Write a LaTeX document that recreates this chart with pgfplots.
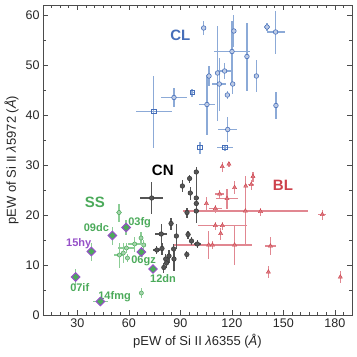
\documentclass[border=0pt]{standalone}
\usepackage{fontspec}
\setmainfont{Liberation Sans}
\usepackage{pgfplots}
\pgfplotsset{compat=1.18}
\usepackage{pgfplotstable}
\usetikzlibrary{calc}

\definecolor{clblue}{RGB}{70,110,185}
\definecolor{clerr}{RGB}{140,170,215}
\definecolor{cngray}{RGB}{55,55,55}
\definecolor{cnerr}{RGB}{85,85,85}
\definecolor{blred}{RGB}{205,65,75}
\definecolor{blerr}{RGB}{225,135,145}
\definecolor{ssgreen}{RGB}{75,170,90}
\definecolor{sserr}{RGB}{140,205,150}
\definecolor{sspurple}{RGB}{150,80,200}

\pgfplotsset{eb/.style={error bars/x dir=both, error bars/x explicit, error bars/y dir=both, error bars/y explicit, error bars/error mark=none, error bars/error bar style={#1, line width=1.2pt}}}

\pgfplotstableread{
x y ex ey
103.6 57.4 1.0 1.4
86.3 43.5 7.5 1.9
105.5 42.1 4.8 6.0
106.7 47.8 1.0 2.0
121.2 56.8 1.0 3.2
140.5 57.6 2.0 0.8
145.5 56.6 5.3 4.3
120.1 52.7 10.4 6.2
128.8 51.7 1.0 6.8
120.5 46.2 1.2 2.0
134.3 47.8 1.0 3.2
115.8 48.8 3.9 1.6
111.7 48.4 1.0 9.5
112.7 46.2 4.0 5.3
117.4 44.0 0.8 0.8
145.7 41.9 1.0 2.7
117.6 37.1 5.5 2.5
}\clcirc

\pgfplotstableread{
x y ex ey
74.6 40.7 10.4 7.2
96.8 44.5 1.0 0.8
101.4 33.5 0.8 1.2
116.0 33.5 4.9 0.6
}\clsq

\pgfplotstableread{
x y ex ey
73.3 23.4 6.8 3.2
99.3 28.6 0.8 1.0
95.4 27.3 0.8 0.8
91.2 25.8 0.8 1.2
95.8 24.4 0.8 1.3
99.3 23.4 0.8 5.0
99.3 22.3 0.8 1.0
99.3 20.8 0.8 1.0
93.9 20.5 0.8 1.0
84.6 18.3 0.8 1.2
78.9 16.2 3.6 2.0
87.7 15.8 0.8 2.5
94.5 16.1 0.8 0.8
96.5 14.8 0.8 0.8
99.9 14.2 2.0 0.8
79.3 13.3 0.8 1.2
76.3 13.0 2.0 0.8
86.1 13.2 0.8 1.0
83.4 11.8 0.8 1.3
81.5 11.2 0.8 1.0
93.8 12.1 0.8 0.8
86.3 11.2 0.8 2.3
81.9 10.4 0.8 1.0
80.4 9.5 0.8 1.0
}\cn

\pgfplotstableread{
x y ex ey
114.4 29.7 0.8 1.0
118.3 30.2 0.6 0.5
132.3 27.7 1.0 1.0
128.1 25.8 0.8 1.2
131.3 26.1 1.6 1.0
121.6 25.5 0.8 1.3
112.9 24.2 2.7 0.8
117.2 23.3 6.5 2.0
105.2 22.3 0.6 1.3
110.4 21.3 3.7 0.8
127.9 20.8 36.4 7.0
136.7 20.7 1.0 0.8
172.7 20.1 2.4 1.0
110.4 17.9 0.8 0.8
114.5 17.9 14.1 0.8
113.5 16.3 0.8 1.2
106.5 14.0 0.8 2.8
108.7 14.0 23.0 0.8
121.6 14.0 0.8 4.0
142.5 13.8 3.4 1.8
141.3 8.6 0.6 1.2
183.2 7.6 0.6 1.2
}\bl

\pgfplotstableread{
x y ex ey
54.3 20.5 1.5 1.8
67.1 15.4 1.0 1.2
68.7 14.0 1.0 1.0
63.4 14.2 3.9 1.5
58.6 13.4 4.9 1.0
54.5 12.0 2.9 2.5
56.8 12.4 1.0 2.0
59.2 11.4 0.8 0.8
67.3 4.4 0.6 1.0
}\ss

\pgfplotstableread{
x y ex ey
58.4 17.5 0.8 1.5
50.4 15.9 0.8 1.8
38.2 12.7 0.8 1.8
67.3 12.6 0.8 1.0
74.1 9.2 0.8 0.8
29.0 7.6 0.8 1.6
43.4 2.7 4.4 0.5
}\ssnamed

\begin{document}
\begin{tikzpicture}
\begin{axis}[
  width=309pt, height=310pt, scale only axis,
  xmin=10, xmax=190, ymin=0, ymax=62,
  xtick={30,60,...,180}, minor xtick={10,15,...,190},
  ytick={0,10,...,60}, minor ytick={5,15,...,55},
  tick align=inside, major tick length=5pt, minor tick length=3pt,
  tick style={line width=0.6pt, black!70},
  axis line style={line width=0.8pt, black!70},
  ticklabel style={font=\fontsize{12.5}{14}\selectfont, text=black!85},
  /pgf/number format/assume math mode=true,
  xlabel={pEW of Si II \textit{λ}6355 (\textit{Å})},
  ylabel={pEW of Si II \textit{λ}5972 (\textit{Å})},
  label style={font=\fontsize{13}{15}\selectfont, text=black!85},
]
\coordinate (SW) at (rel axis cs:0,0);
\coordinate (NE) at (rel axis cs:1,1);

% CL
\addplot[only marks, mark=*, mark size=2.3pt, draw=clblue, mark options={fill=clblue!35, line width=0.6pt}, eb=clerr]
  table[x=x, y=y, x error=ex, y error=ey] {\clcirc};
\addplot[only marks, mark=square, mark size=2.2pt, draw=clblue, mark options={fill=white, line width=0.6pt}, eb=clerr]
  table[x=x, y=y, x error=ex, y error=ey] {\clsq};

% BL
\addplot[only marks, mark=triangle*, mark size=2.4pt, draw=blred, mark options={fill=blred!70, line width=0.4pt}, eb=blerr]
  table[x=x, y=y, x error=ex, y error=ey] {\bl};

% CN
\addplot[only marks, mark=*, mark size=2.3pt, draw=cngray, mark options={fill=cngray!85, line width=0.5pt}, eb=cnerr]
  table[x=x, y=y, x error=ex, y error=ey] {\cn};

% SS
\addplot[only marks, mark=*, mark size=2.1pt, draw=ssgreen, mark options={fill=ssgreen!50, line width=0.5pt}, eb=sserr]
  table[x=x, y=y, x error=ex, y error=ey] {\ss};
\addplot[only marks, mark=square*, mark size=3pt, draw=sspurple, mark options={fill=ssgreen, line width=1pt, rotate=45}, eb=sserr]
  table[x=x, y=y, x error=ex, y error=ey] {\ssnamed};

% group labels
\tikzset{grplab/.style={font=\bfseries\fontsize{15}{17}\selectfont}}
\node[grplab, text=clblue] at (axis cs:90,55.9) {CL};
\node[grplab, text=black] at (axis cs:79.8,29.0) {CN};
\node[grplab, text=blred] at (axis cs:149.8,26.0) {BL};
\node[grplab, text=ssgreen] at (axis cs:40.2,22.6) {SS};

% SN names
\tikzset{snlab/.style={font=\bfseries\fontsize{11}{12}\selectfont, text=ssgreen, inner sep=0pt}}
\node[snlab] at (axis cs:66.3,18.5) {03fg};
\node[snlab] at (axis cs:41.1,17.5) {09dc};
\node[snlab, text=sspurple] at (axis cs:30.8,14.35) {15hy};
\node[snlab] at (axis cs:68.6,10.9) {06gz};
\node[snlab] at (axis cs:79.9,7.2) {12dn};
\node[snlab] at (axis cs:31.4,5.4) {07if};
\node[snlab] at (axis cs:51.7,3.7) {14fmg};
\end{axis}
\pgfresetboundingbox
\path ($(SW)+(-43pt,-42pt)$) rectangle ($(NE)+(5pt,5pt)$);
\end{tikzpicture}
\end{document}
